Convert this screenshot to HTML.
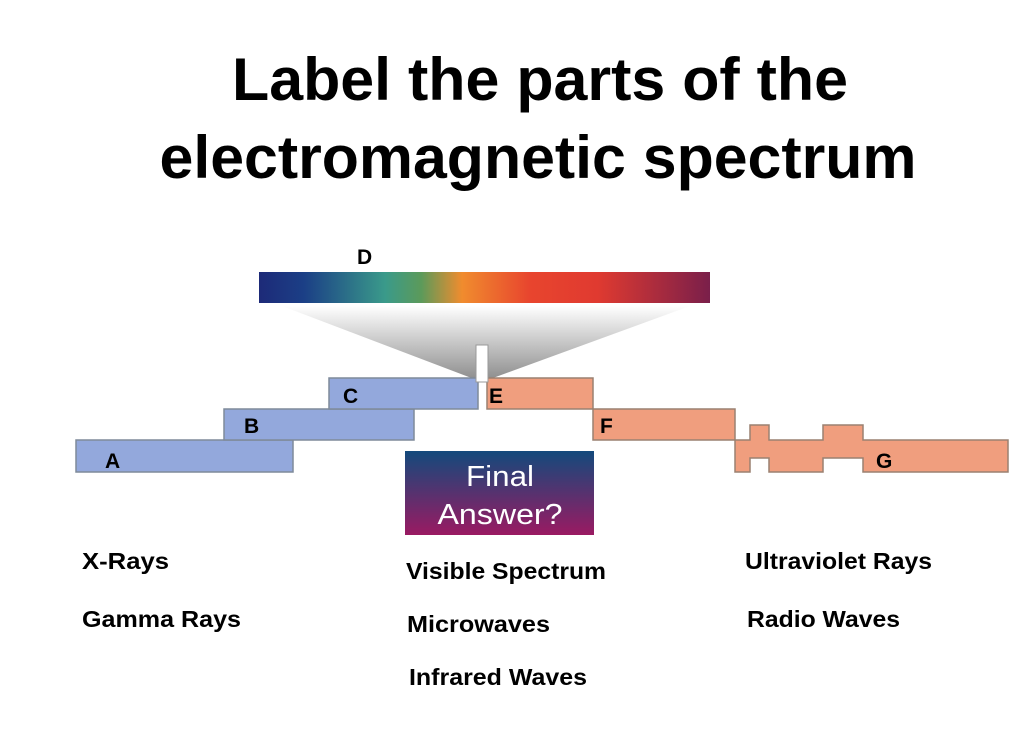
<!DOCTYPE html>
<html><head><style>html,body{margin:0;padding:0;background:#fff;}svg{display:block}</style></head>
<body>
<svg width="1024" height="734" viewBox="0 0 1024 734" xmlns="http://www.w3.org/2000/svg" font-family="Liberation Sans, Arial, sans-serif" font-weight="bold">
<defs>
<linearGradient id="spec" x1="0" x2="1" y1="0" y2="0">
<stop offset="0" stop-color="#1d2a78"/>
<stop offset="0.1" stop-color="#1b3f86"/>
<stop offset="0.28" stop-color="#3a9a8a"/>
<stop offset="0.36" stop-color="#5c9a5a"/>
<stop offset="0.45" stop-color="#f08c2e"/>
<stop offset="0.6" stop-color="#e8452e"/>
<stop offset="0.75" stop-color="#e03a30"/>
<stop offset="1" stop-color="#7a1f4a"/>
</linearGradient>
<linearGradient id="tri" x1="0" x2="0" y1="0" y2="1">
<stop offset="0" stop-color="#ffffff"/>
<stop offset="1" stop-color="#8a8a8a"/>
</linearGradient>
<linearGradient id="fa" x1="0" x2="0" y1="0" y2="1">
<stop offset="0" stop-color="#134a7c"/>
<stop offset="1" stop-color="#9a1a62"/>
</linearGradient>
</defs>
<text x="540" y="100" font-size="60" text-anchor="middle" textLength="616" lengthAdjust="spacingAndGlyphs">Label the parts of the</text>
<text x="538" y="178" font-size="60" text-anchor="middle" textLength="757" lengthAdjust="spacingAndGlyphs">electromagnetic spectrum</text>

<rect x="259" y="272" width="451" height="31" fill="url(#spec)"/>
<polygon points="282,306 690,306 482,382" fill="url(#tri)"/>
<text x="357" y="264" font-size="21">D</text>

<g stroke="#7f8a9a" stroke-width="1.5" fill="#93a8dc">
<rect x="76" y="440" width="217" height="32"/>
<rect x="224" y="409" width="190" height="31"/>
<rect x="329" y="378" width="149" height="31"/>
</g>
<g stroke="#9a8070" stroke-width="1.5" fill="#f09e7e">
<rect x="487" y="378" width="106" height="31"/>
<rect x="593" y="409" width="142" height="31"/>
<path d="M735 440 H750 V425 H769 V440 H823 V425 H863 V440 H1008 V472 H863 V458 H823 V472 H769 V458 H750 V472 H735 Z"/>
</g>
<rect x="476" y="345" width="12" height="37" fill="#fff" stroke="#999" stroke-width="1"/>
<g font-size="21">
<text x="105" y="468">A</text>
<text x="244" y="433">B</text>
<text x="343" y="403">C</text>
<text x="489" y="403">E</text>
<text x="600" y="433">F</text>
<text x="876" y="468">G</text>
</g>
<rect x="405" y="451" width="189" height="84" fill="url(#fa)"/>
<text x="500" y="486" font-size="29" fill="#fff" text-anchor="middle" font-weight="normal" textLength="68" lengthAdjust="spacingAndGlyphs">Final</text>
<text x="500" y="524" font-size="29" fill="#fff" text-anchor="middle" font-weight="normal" textLength="125" lengthAdjust="spacingAndGlyphs">Answer?</text>

<g font-size="23">
<text x="82" y="569" textLength="87" lengthAdjust="spacingAndGlyphs">X-Rays</text>
<text x="82" y="627" textLength="159" lengthAdjust="spacingAndGlyphs">Gamma Rays</text>
<text x="406" y="579" textLength="200" lengthAdjust="spacingAndGlyphs">Visible Spectrum</text>
<text x="407" y="632" textLength="143" lengthAdjust="spacingAndGlyphs">Microwaves</text>
<text x="409" y="685" textLength="178" lengthAdjust="spacingAndGlyphs">Infrared Waves</text>
<text x="745" y="569" textLength="187" lengthAdjust="spacingAndGlyphs">Ultraviolet Rays</text>
<text x="747" y="627" textLength="153" lengthAdjust="spacingAndGlyphs">Radio Waves</text>
</g>
</svg>
</body></html>
